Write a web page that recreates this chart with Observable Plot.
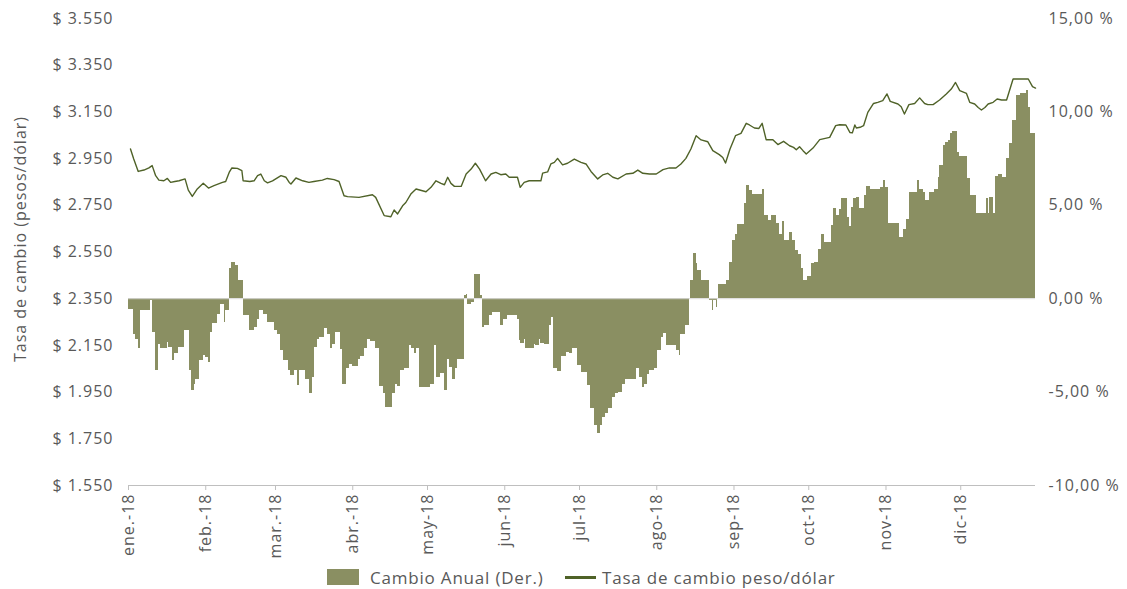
<!DOCTYPE html>
<html><head><meta charset="utf-8">
<script src="https://cdn.jsdelivr.net/npm/d3@7"></script>
<script src="https://cdn.jsdelivr.net/npm/@observablehq/plot@0.6"></script>
<style>
body{margin:0;background:#fff;font-family:"Open Sans",sans-serif;}
#chart svg text{letter-spacing:1px;}
#legend{position:relative;width:1127px;height:24px;font-family:"Open Sans",sans-serif;font-size:17px;letter-spacing:0.8px;color:#595959;}
#legend .it{position:absolute;top:0;display:flex;align-items:center;height:24px;}
#legend .sw{width:32px;height:16px;background:#8a8f62;margin-right:11px;}
#legend .ln{width:31px;height:3px;background:#4f6228;margin-right:6px;}
</style></head><body>
<div id="chart"></div>
<div id="legend">
  <div class="it" style="left:327px"><span class="sw"></span><span>Cambio Anual (Der.)</span></div>
  <div class="it" style="left:565px"><span class="ln"></span><span>Tasa de cambio peso/dólar</span></div>
</div>
<script>
// Annual change (%), right axis: [day of year 2018 where a step starts, value]
const barDayPct = [
[0,-0.59],[2.1,-1.89],[3,-2.16],[3.9,-2.69],[4.8,-0.64],[8.9,-0.11],[9.8,-1.8],[10.9,-3.82],[12.2,-2.43],[12.9,-2.69],
[15.6,-2.34],[16.2,-2.6],[17.6,-3.32],[18.6,-2.96],[20,-2.6],[22.3,-1.71],[24.3,-3.85],[25.4,-4.93],[26.3,-4.57],[27,-4.3],
[28.6,-3.32],[29.9,-3.05],[31,-3.14],[32,-3.41],[33,-1.8],[33.9,-1.32],[35.7,-0.82],[37,-0.29],[38.4,-1.27],[39,-0.61],
[40.4,1.59],[41.4,1.95],[43,1.77],[44.1,1.0],[46,-0.91],[48.4,-1.71],[50.4,-1.53],[51.8,-1.09],[52.7,-0.64],[54,-0.82],
[55.8,-1.27],[58.5,-1.71],[59.8,-1.89],[61.2,-2.78],[62.1,-3.32],[64.3,-3.85],[65.2,-4.12],[66.5,-3.85],[67.9,-4.66],[68.8,-3.85],
[71.2,-4.3],[72.6,-5.1],[74,-4.21],[74.8,-2.6],[75.8,-2.16],[76.7,-2.07],[78.5,-1.62],[79.8,-1.89],[81.1,-2.69],[81.8,-2.43],
[82.9,-1.8],[85.2,-2.7],[85.9,-4.6],[87.4,-3.76],[88.5,-3.5],[89.9,-3.64],[92.3,-3.28],[93.2,-3.1],[94.6,-2.69],[95.9,-2.16],
[97.2,-2.28],[99.3,-2.69],[100.6,-4.71],[102.2,-5.1],[103,-5.85],[106,-5.1],[107,-4.57],[108,-4.71],[109.3,-3.82],[110.7,-3.76],
[112.7,-2.52],[113.6,-2.69],[114.7,-2.96],[115.6,-2.69],[116.7,-4.75],[118,-4.78],[121.4,-4.57],[122.7,-2.52],[123.8,-4.21],[125.4,-4.0],
[126.8,-4.89],[128.1,-3.23],[128.8,-3.68],[129.9,-4.3],[131.1,-3.76],[132.1,-3.28],[134.8,0.16],[135.5,0.25],[136.1,-0.29],[137.5,-0.2],
[139,1.28],[141.1,0.16],[141.9,-1.53],[142.8,-1.45],[144.9,-0.91],[146.1,-0.73],[149.4,-1.45],[150.4,-1.14],[152.1,-0.91],[156.1,-1.09],
[156.8,-2.25],[157.5,-2.4],[158.8,-2.16],[159.5,-2.69],[162.8,-2.43],[163.5,-2.52],[164.8,-2.16],[165.5,-2.4],[166.9,-2.43],[168.9,-1.45],
[169.8,-1.0],[170.6,-3.76],[172.3,-3.89],[173.6,-3.1],[175.6,-2.87],[176.9,-2.96],[178.3,-2.64],[180.3,-3.59],[181.6,-3.96],[184.3,-4.66],
[185.6,-5.9],[187,-6.8],[188.3,-7.24],[189.3,-6.8],[190.3,-6.35],[191.4,-6.17],[192.7,-5.9],[194.1,-5.28],[195.4,-5.1],[196.7,-5.0],
[198.4,-4.57],[199.4,-4.3],[203.7,-3.76],[205.1,-4.21],[206.1,-4.75],[207.1,-4.57],[208.2,-4.05],[209.1,-3.85],[211.1,-3.76],[212.5,-2.78],
[213.8,-2.07],[214.9,-1.85],[215.8,-2.52],[220,-2.75],[221,-3.06],[221.7,-1.89],[223.5,-1.45],[225.3,0],[225.5,1.0],[226.9,2.43],
[227.8,1.86],[228.5,1.5],[229.9,1.0],[233.1,-0.07],[234.2,-0.64],[234.7,-0.1],[235.8,-0.46],[236.5,0],[236.9,0.78],[239.8,1.0],
[241.1,1.95],[242.2,3.1],[243.6,3.46],[244.5,3.96],[247.2,5.1],[248.1,6.05],[249.2,5.78],[250.3,5.57],[254.3,5.87],[255.3,4.44],
[257,4.18],[258,4.44],[260,4.0],[261.1,3.46],[262.4,4.14],[263.3,3.14],[265.1,3.55],[266.4,3.1],[267.7,2.57],[268.7,2.39],
[270,1.59],[270.7,1.0],[272.3,1.18],[274,1.86],[275.4,1.95],[277.1,2.66],[278.1,3.46],[279.4,3.02],[282.1,3.91],[283,4.85],
[284.1,4.44],[285.2,4.75],[286.1,5.34],[288.4,4.35],[289.2,3.85],[290.1,4.89],[291.1,5.34],[292.1,5.42],[293.2,4.85],[295.4,5.51],
[296.3,6.0],[297.7,5.87],[299.4,5.82],[301.7,5.96],[303,6.32],[303.8,5.96],[305.2,4.0],[309.4,3.25],[311.1,3.68],[312.1,4.26],
[313.5,5.69],[316.8,6.32],[317.5,5.87],[319.1,5.69],[319.9,5.25],[321.3,5.69],[323.5,5.87],[324.9,6.5],[325.6,7.12],[326.9,8.19],
[328,8.37],[328.9,8.46],[329.8,8.82],[330.6,8.94],[332.5,7.83],[333.3,7.6],[336.9,6.41],[337.9,5.51],[340.3,4.57],[344.3,5.34],
[345,4.57],[345.7,5.42],[347,4.57],[348.1,6.53],[349,6.64],[350.8,6.5],[352.4,7.53],[353.5,8.32],[354.8,9.53],[356.5,10.87],
[357.8,10.96],[359.4,10.99],[360.2,11.13],[361.2,10.21],[361.8,8.87]
];
// Exchange rate (pesos per dollar), left axis: [day of year 2018, value]
const lineDayRate = [
[0.8,2991],[2.1,2948],[3.9,2895],[6.2,2901],[8.2,2910],[9.5,2920],[10.9,2877],[12.2,2858],[14.2,2855],[15.6,2865],
[16.9,2848],[18.6,2852],[20.3,2855],[22.7,2863],[24,2815],[25.6,2788],[27.6,2820],[30,2844],[32.1,2824],[34.3,2834],
[37.7,2848],[39,2852],[40.4,2891],[41.5,2910],[43.7,2908],[45.5,2898],[46,2855],[48.7,2852],[50.4,2855],[51.8,2877],
[53.1,2884],[54.5,2855],[55.8,2846],[57.8,2855],[61.2,2877],[63.2,2870],[64.5,2848],[65.2,2841],[67.2,2867],[69.9,2855],
[72.4,2848],[74.4,2852],[77.8,2858],[79.8,2865],[82.5,2860],[84.5,2852],[86.5,2791],[87.9,2787],[92.5,2784],[97.9,2795],
[99.2,2784],[102.6,2706],[105.3,2701],[106.6,2730],[108,2713],[110,2748],[111.3,2762],[113.3,2798],[115.4,2820],[119.4,2808],
[121.4,2827],[123.4,2855],[125.4,2844],[126.8,2838],[128.1,2870],[129.4,2844],[130.8,2831],[133.5,2831],[135.5,2884],[137.5,2905],
[139.2,2930],[140.9,2905],[143.3,2855],[145.5,2884],[147.4,2891],[149.4,2881],[151.4,2884],[152.8,2870],[156.1,2870],[157.2,2827],
[158.8,2848],[160.8,2855],[165.5,2855],[166.2,2888],[168.2,2893],[169.5,2927],[170.9,2934],[172.2,2951],[174.2,2923],[176.2,2930],
[178.9,2948],[181.6,2934],[183.6,2927],[185.6,2895],[188.3,2863],[190.3,2880],[192.3,2887],[194.4,2870],[196.4,2863],[199.7,2884],
[202.4,2887],[204.4,2901],[206.4,2887],[209.1,2884],[211.8,2884],[214.5,2903],[217.1,2910],[219.7,2910],[221.7,2927],[223.7,2951],
[225.7,2991],[227.8,3048],[229.8,3030],[232.5,3022],[234.5,2984],[237.1,2967],[238.5,2955],[239.6,2931],[241.4,2991],[243.6,3048],
[245.8,3058],[247.9,3101],[249.2,3094],[251.2,3081],[253,3079],[254.3,3101],[255.9,3031],[258.6,3031],[260.6,3010],[262.9,3024],
[265.3,3005],[266.9,2998],[268,2988],[269.3,3001],[270.7,2984],[272,2970],[274.7,2995],[277.4,3031],[281.4,3041],[283.8,3091],
[285.4,3095],[287.9,3094],[289.5,3062],[290.5,3060],[291.5,3094],[292.1,3081],[293.6,3084],[295,3091],[296.7,3148],[299,3186],
[300.7,3191],[302.7,3198],[304.4,3227],[305.7,3195],[308.8,3184],[310.1,3172],[311.4,3141],[313.2,3181],[315.5,3186],[317.5,3210],
[319.5,3186],[320.8,3181],[322.9,3181],[325.5,3201],[328.2,3227],[330.2,3248],[331.9,3276],[333.6,3241],[336.3,3229],[337.6,3191],
[339.6,3184],[341,3169],[342.3,3158],[343.7,3169],[345,3184],[347,3191],[348.6,3205],[350.4,3201],[352.4,3201],[355,3291],
[357.7,3291],[361.1,3291],[362.8,3258],[364,3252]
];
const monthLabels = ["ene.-18","feb.-18","mar.-18","abr.-18","may-18","jun-18","jul-18","ago-18","sep-18","oct-18","nov-18","dic-18"];
const leftTicks = [1550,1750,1950,2150,2350,2550,2750,2950,3150,3350,3550];
const rightPctTicks = [-10,-5,0,5,10,15];
const yTitle = "Tasa de cambio (pesos/dólar)";
const lastDay = 364;
// right axis (%) mapped onto left axis (pesos): 0 % ↔ 2350, 1 % ↔ 80 pesos
const zeroRate = 2350, ratePerPct = 80;

const toDate = d => new Date(Date.UTC(2018,0,1) + d*864e5);
const bars = barDayPct.map(([d,p],i) => ({
  x1: toDate(d),
  x2: toDate(i < barDayPct.length-1 ? barDayPct[i+1][0] : lastDay),
  y1: zeroRate,
  y2: zeroRate + p*ratePerPct
}));
const line = lineDayRate.map(([d,r]) => ({date: toDate(d), rate: r}));
const monthTicks = monthLabels.map((_,m) => new Date(Date.UTC(2018,m,1)));
const fmtThousands = d3.format(",");

const chart = Plot.plot({
  width: 1127, height: 565,
  marginLeft: 128, marginRight: 92, marginTop: 18, marginBottom: 80,
  x: {type: "utc", domain: [toDate(0), toDate(lastDay)]},
  y: {domain: [1550, 3550]},
  style: {fontFamily: "Open Sans", fontSize: "16px", color: "#595959", background: "#fff"},
  marks: [
    Plot.rect(bars, {x1: "x1", x2: "x2", y1: "y1", y2: "y2", fill: "#8a8f62", shapeRendering: "crispEdges"}),
    Plot.ruleY([zeroRate], {stroke: "#d9d9d9", strokeWidth: 1}),
    Plot.line(line, {x: "date", y: "rate", stroke: "#4f6228", strokeWidth: 1.4}),
    Plot.ruleY([1550], {stroke: "#bfbfbf", strokeWidth: 1}),
    Plot.axisY({anchor: "left", ticks: leftTicks, tickSize: 0, tickPadding: 15, label: null,
      tickFormat: d => "$ " + fmtThousands(d).replace(/,/g, ".")}),
    Plot.axisY({anchor: "right", ticks: rightPctTicks.map(p => zeroRate + p*ratePerPct), tickSize: 0, tickPadding: 13, label: null,
      tickFormat: v => ((v - zeroRate)/ratePerPct).toFixed(2).replace(".", ",") + " %"}),
    Plot.axisX({ticks: monthTicks, tickFormat: d => monthLabels[d.getUTCMonth()], tickRotate: -90,
      tickSize: 5, tickPadding: 3, stroke: "#bfbfbf", label: null}),
    Plot.text([yTitle], {frameAnchor: "left", textAnchor: "middle", dx: -108, dy: -13, rotate: -90, text: d => d, fill: "#595959", fontSize: 16})
  ]
});
document.getElementById("chart").appendChild(chart);
</script>
</body></html>
